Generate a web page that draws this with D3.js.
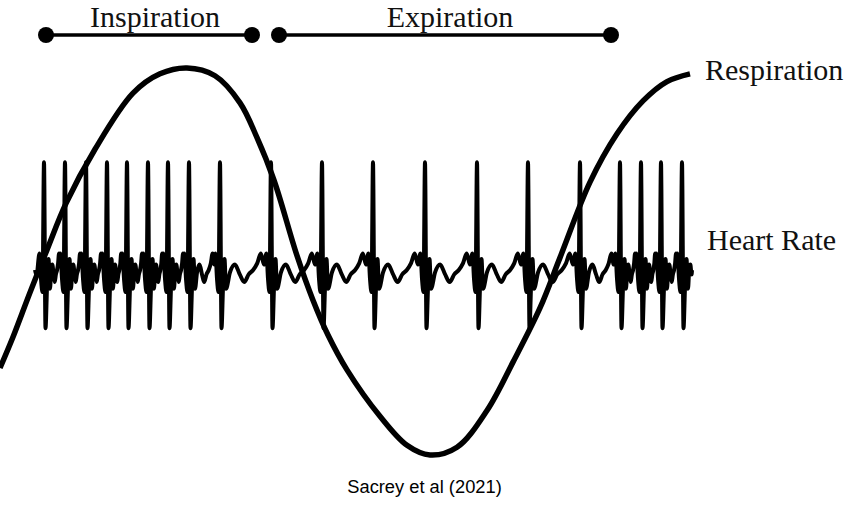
<!DOCTYPE html>
<html>
<head>
<meta charset="utf-8">
<script src="https://cdn.jsdelivr.net/npm/d3@7"></script>
<style>
  html, body { margin: 0; padding: 0; background: #fff; }
  svg { display: block; }
</style>
</head>
<body>
<svg id="chart" width="851" height="511"></svg>
<script>
// ---- Data (time in arbitrary units along the trace) ----
const phaseNames = ["Inspiration", "Expiration"];
const phaseStart = [46, 279];
const phaseEnd = [252, 611];
const phaseLabelAt = [155, 450];

// Respiration trace: time and normalised amplitude (-1 .. 1)
const respTime = [0, 13, 30, 47, 66, 95, 133, 160, 187, 215, 240, 257, 274, 297, 313, 328, 347, 380, 407, 430, 457, 487, 513, 540, 560, 590, 617, 643, 667, 690];
const respValue = [-0.55, -0.39, -0.16, 0.06, 0.30, 0.58, 0.87, 0.97, 1.0, 0.96, 0.82, 0.64, 0.42, 0.03, -0.20, -0.38, -0.56, -0.80, -0.95, -1.0, -0.96, -0.77, -0.52, -0.24, 0.02, 0.41, 0.66, 0.83, 0.93, 0.97];

// Heart beats (R-peak times)
const beatTimes = [44, 65, 86, 107, 127, 148, 168, 189, 220, 271, 322, 373, 425, 477, 528, 580, 620, 641, 661, 682];
const ecgStart = 35, ecgEnd = 692;
// QRS complex around each R peak (offset, amplitude)
const qrsOffset = [-4.5, -3, -1.5, 0, 1.5, 3, 4.5, 6];
const qrsValue = [0.15, -0.08, -0.2, 0.98, -0.53, -0.16, 0.1, -0.17];
// Between-beat wiggle (fraction of the gap between complexes, amplitude)
const wigglePhase = [0.1, 0.22, 0.34, 0.45, 0.56, 0.67, 0.77, 0.86, 0.94];
const wiggleValue = [-0.02, 0.05, -0.04, -0.11, -0.04, 0.0, 0.06, 0.15, 0.05];

const seriesLabels = ["Respiration", "Heart Rate"];
const caption = "Sacrey et al (2021)";

// ---- Scales ----
const svg = d3.select("#chart");
const x = d3.scaleLinear().domain([0, 700]).range([0, 700]);
const yResp = d3.scaleLinear().domain([-1, 1]).range([455, 68]);
const yHeart = d3.scaleLinear().domain([-1, 1]).range([380, 160]);
const serif = "'Liberation Serif', 'Times New Roman', serif";

// ---- Phase bars ----
const bars = svg.append("g");
phaseNames.forEach((name, i) => {
  const x0 = x(phaseStart[i]), x1 = x(phaseEnd[i]);
  bars.append("line").attr("x1", x0).attr("x2", x1).attr("y1", 35).attr("y2", 35)
    .attr("stroke", "#000").attr("stroke-width", 3.5);
  bars.selectAll(null).data([x0, x1]).enter().append("circle")
    .attr("cx", d => d).attr("cy", 35).attr("r", 8).attr("fill", "#000");
  bars.append("text").attr("x", x(phaseLabelAt[i])).attr("y", 26.5)
    .attr("text-anchor", "middle")
    .attr("font-family", serif)
    .attr("font-size", 30).attr("fill", "#111").text(name);
});

// ---- ECG trace ----
const ecg = [[ecgStart, 0]];
const firstOff = qrsOffset[0], lastOff = qrsOffset[qrsOffset.length - 1];
beatTimes.forEach((t, i) => {
  if (i === 0) ecg.push([t + firstOff - 3, -0.05]);
  qrsOffset.forEach((o, k) => ecg.push([t + o, qrsValue[k]]));
  const next = i < beatTimes.length - 1 ? beatTimes[i + 1] : t + (t - beatTimes[i - 1]);
  const a = t + lastOff, b = next + firstOff;
  wigglePhase.forEach((f, k) => {
    const tt = a + f * (b - a);
    if (tt < ecgEnd) ecg.push([tt, wiggleValue[k]]);
  });
});
ecg.push([ecgEnd, 0]);

const ecgLine = d3.line().x(d => x(d[0])).y(d => yHeart(d[1])).curve(d3.curveMonotoneX);
svg.append("path").attr("d", ecgLine(ecg))
  .attr("fill", "none").attr("stroke", "#000").attr("stroke-width", 4)
  .attr("stroke-linejoin", "round");

// ---- Respiration trace ----
const respLine = d3.line().x((d, i) => x(respTime[i])).y(d => yResp(d)).curve(d3.curveCatmullRom.alpha(0.5));
svg.append("path").attr("d", respLine(respValue))
  .attr("fill", "none").attr("stroke", "#000").attr("stroke-width", 5.5);

// ---- Series labels ----
svg.append("text").attr("x", 705).attr("y", 80)
  .attr("font-family", serif)
  .attr("font-size", 30).attr("fill", "#111").text(seriesLabels[0]);
svg.append("text").attr("x", 707).attr("y", 250)
  .attr("font-family", serif)
  .attr("font-size", 30).attr("fill", "#111").text(seriesLabels[1]);

// ---- Caption ----
svg.append("text").attr("x", 424.5).attr("y", 493)
  .attr("text-anchor", "middle")
  .attr("font-family", "'Liberation Sans', Arial, sans-serif")
  .attr("font-size", 18.3).attr("fill", "#000").text(caption);
</script>
</body>
</html>
